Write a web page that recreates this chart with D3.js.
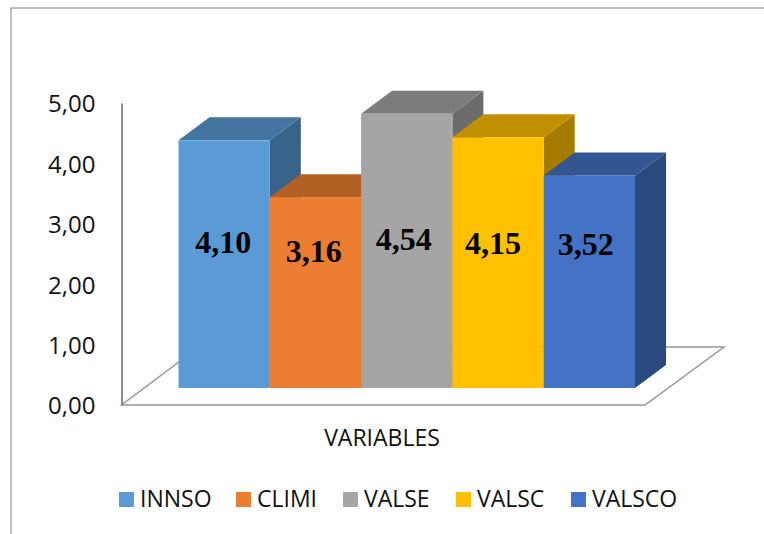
<!DOCTYPE html>
<html>
<head>
<meta charset="utf-8">
<script src="https://cdn.jsdelivr.net/npm/d3@7"></script>
<style>
body { margin: 0; background: #fff; }
text { font-family: "Open Sans", sans-serif; fill: #111; }
</style>
</head>
<body>
<svg id="chart"></svg>
<script>
const categories = ['INNSO', 'CLIMI', 'VALSE', 'VALSC', 'VALSCO'];
const values = [4.10, 3.16, 4.54, 4.15, 3.52];
const yTicks = [0, 1, 2, 3, 4, 5];
const xTitle = 'VARIABLES';

const frontColors = ['#5b9bd5', '#ed7d31', '#a5a5a5', '#ffc000', '#4472c4'];
const topColors = ['#4475a1', '#b26024', '#7c7c7c', '#c09000', '#335692'];
const sideColors = ['#396389', '#99501e', '#6b6b6b', '#a67c00', '#2a4a7f'];

// nudges for the value labels, the original ones were moved by hand
const labelDx = [-1, -1.6, -3, -5, -3.6];
const labelDy = [1, 10, -2, 1.5, 3];
const labelBase = 252;

const width = 764;
const height = 534;
const depth = { x: 31, y: -23 };
const shift = { x: 57, y: -17 };

const svg = d3.select('#chart')
    .attr('width', width)
    .attr('height', height)
    .style('display', 'block');

const fmt = d => d3.format('.2f')(d).replace('.', ',');

const yScale = d3.scaleLinear().domain([0, 5]).range([405, 103]);
const xScale = d3.scaleBand().domain(categories).range([121.5, 578]);

// outer frame, only top and left are inside the picture
svg.append('path')
    .attr('d', 'M11,534V8H764')
    .attr('fill', 'none')
    .attr('stroke', '#a6a6a6')
    .attr('stroke-width', 1.5);

// floor
const floorLeft = xScale.range()[0];
svg.append('path')
    .attr('d', `M${floorLeft},${yScale(0)}L645,${yScale(0)}L724,347L199,347Z`)
    .attr('fill', '#fff')
    .attr('stroke', '#979797')
    .attr('stroke-width', 1.5);

const yAxis = d3.axisLeft(yScale).tickValues(yTicks).tickSize(0).tickPadding(26).tickFormat(fmt);
const axisG = svg.append('g')
    .attr('transform', `translate(${floorLeft},0)`)
    .call(yAxis);
axisG.select('.domain').attr('stroke', '#8c8c8c').attr('stroke-width', 2);
axisG.selectAll('text')
    .attr('dy', '0.37em')
    .style('font-family', '"Open Sans", sans-serif')
    .style('font-size', '24px')
    .attr('fill', '#111');

const bars = svg.append('g')
    .attr('transform', `translate(${shift.x},${shift.y})`)
    .selectAll('g')
    .data(categories)
    .enter()
    .append('g');

// sides first so that the next bar covers them
bars.append('path')
    .attr('fill', (d, i) => sideColors[i])
    .attr('d', (d, i) => {
        const x1 = xScale(d) + xScale.bandwidth();
        const t = yScale(values[i]);
        const b = yScale(0);
        return `M${x1},${t}l${depth.x},${depth.y}V${b + depth.y}l${-depth.x},${-depth.y}Z`;
    });

bars.append('path')
    .attr('fill', (d, i) => topColors[i])
    .attr('d', (d, i) => {
        const x0 = xScale(d);
        const t = yScale(values[i]);
        return `M${x0},${t}l${depth.x},${depth.y}h${xScale.bandwidth()}l${-depth.x},${-depth.y}Z`;
    });

bars.append('rect')
    .attr('x', d => xScale(d))
    .attr('width', xScale.bandwidth())
    .attr('y', (d, i) => yScale(values[i]))
    .attr('height', (d, i) => yScale(0) - yScale(values[i]))
    .attr('fill', (d, i) => frontColors[i]);

bars.append('text')
    .attr('x', (d, i) => xScale(d) + xScale.bandwidth() / 2 + labelDx[i])
    .attr('y', (d, i) => labelBase + labelDy[i] - shift.y)
    .attr('text-anchor', 'middle')
    .style('font-family', '"Liberation Serif", serif')
    .style('font-weight', 'bold')
    .style('font-size', '32px')
    .style('fill', '#000')
    .text((d, i) => fmt(values[i]));

svg.append('text')
    .attr('x', 382)
    .attr('y', 446)
    .attr('text-anchor', 'middle')
    .style('font-size', '23px')
    .text(xTitle);

// legend
const legendX = d3.scaleOrdinal().domain(categories).range([119, 236, 343, 456, 571]);
const legend = svg.append('g')
    .selectAll('g')
    .data(categories)
    .enter()
    .append('g')
    .attr('transform', d => `translate(${legendX(d)},492)`);

legend.append('rect')
    .attr('width', 15)
    .attr('height', 15)
    .attr('fill', (d, i) => frontColors[i]);

legend.append('text')
    .attr('x', 21)
    .attr('y', 15)
    .style('font-size', '23px')
    .text(d => d);
</script>
</body>
</html>
